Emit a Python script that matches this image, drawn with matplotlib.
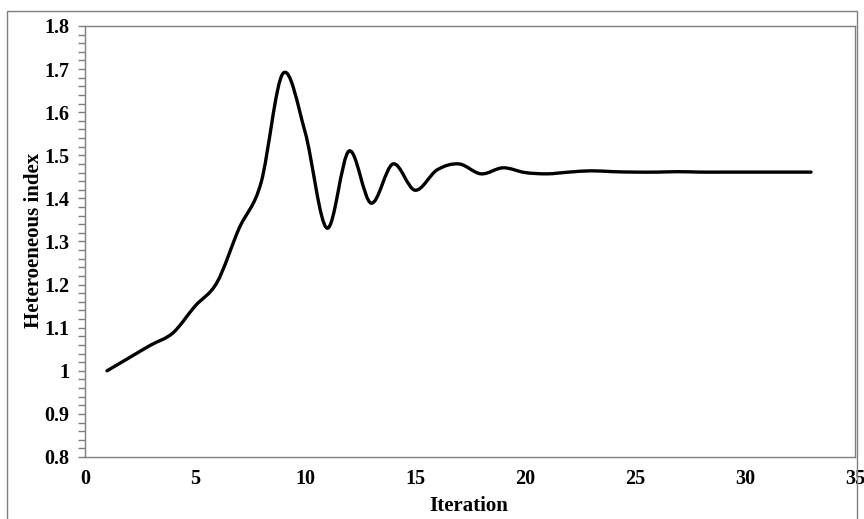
import matplotlib
matplotlib.use("Agg")
import matplotlib.pyplot as plt
import numpy as np
from matplotlib.path import Path
from matplotlib.patches import PathPatch, Rectangle
from matplotlib.ticker import MultipleLocator, FuncFormatter

iterations = list(range(1, 34))
hetero_index = [1.000, 1.030, 1.060, 1.088, 1.150, 1.205, 1.330, 1.436, 1.690, 1.555,
                1.331, 1.510, 1.389, 1.480, 1.419, 1.466, 1.480, 1.457, 1.471, 1.460,
                1.457, 1.461, 1.464, 1.462, 1.461, 1.461, 1.462, 1.461, 1.461, 1.461,
                1.461, 1.461, 1.461]

x_label = "Iteration"
y_label = "Heteroeneous index"

plt.rcParams['font.family'] = ['Liberation Serif', 'DejaVu Serif']

fig = plt.figure(figsize=(8.64, 5.19), dpi=100)
ax = fig.add_axes([85/864, 1-457/519, (855-85)/864, (457-26)/519])

# Excel-like smoothed line: cubic Bezier through points (Catmull-Rom style)
x = np.array(iterations, dtype=float)
y = np.array(hetero_index, dtype=float)
verts = [(x[0], y[0])]
codes = [Path.MOVETO]
t = 1/6
n = len(x)
for i in range(n - 1):
    x0, y0 = (x[i-1], y[i-1]) if i > 0 else (x[i], y[i])
    x3, y3 = (x[i+2], y[i+2]) if i + 2 < n else (x[i+1], y[i+1])
    c1 = (x[i] + (x[i+1] - x0) * t, y[i] + (y[i+1] - y0) * t)
    c2 = (x[i+1] - (x3 - x[i]) * t, y[i+1] - (y3 - y[i]) * t)
    verts += [c1, c2, (x[i+1], y[i+1])]
    codes += [Path.CURVE4] * 3
ax.add_patch(PathPatch(Path(verts, codes), facecolor='none', edgecolor='black',
                       linewidth=2.4, capstyle='round', joinstyle='round'))

ax.set_xlim(0, 35)
ax.set_ylim(0.8, 1.8)
ax.xaxis.set_major_locator(MultipleLocator(5))
ax.yaxis.set_major_locator(MultipleLocator(0.1))
ax.yaxis.set_minor_locator(MultipleLocator(0.02))

def fmt(v, pos):
    return "1" if abs(v - 1) < 1e-9 else f"{v:.1f}"
ax.yaxis.set_major_formatter(FuncFormatter(fmt))

for sp in ax.spines.values():
    sp.set_color('#7f7f7f')
    sp.set_linewidth(1.0)

ax.tick_params(axis='y', which='both', direction='out', color='#7f7f7f', width=1.0,
               length=5, pad=6, labelsize=14.5)
ax.tick_params(axis='x', which='both', length=0, pad=9, labelsize=14.5)
for lab in ax.get_xticklabels() + ax.get_yticklabels():
    lab.set_fontweight('bold')

ax.set_xlabel(x_label, fontsize=15, fontweight='bold')
ax.set_ylabel(y_label, fontsize=15, fontweight='bold')
ax.xaxis.set_label_coords(0.5 + (469 - 470) / 770, (457 - 496) / 431)
ax.yaxis.set_label_coords((44 - 85) / 770, 0.5 + (241.5 - 240) / 431)

fig.patches.append(Rectangle((7/864, -0.05), (857-7)/864, 1.05 - 11/519,
                             transform=fig.transFigure, fill=False,
                             edgecolor='#7f7f7f', linewidth=1.0))

fig.savefig("out.png", dpi=100)
